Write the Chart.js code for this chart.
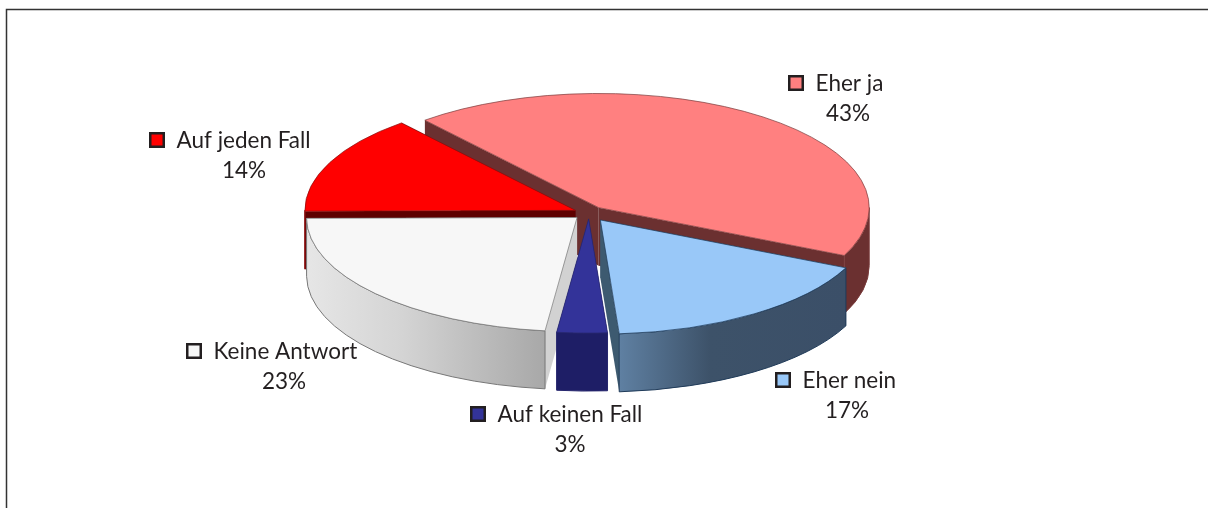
<!DOCTYPE html>
<html lang="de">

<head>
  <meta charset="UTF-8">
  <title>Umfrage</title>
  <script src="https://cdnjs.cloudflare.com/ajax/libs/Chart.js/4.4.1/chart.umd.min.js"></script>
  <style>
    html, body { margin: 0; padding: 0; background: #fff; }
    canvas { display: block; }
  </style>
</head>

<body>
  <canvas id="example" width="1208" height="508"></canvas>
  <script>
    // data
    var categories = ['Eher ja', 'Eher nein', 'Auf keinen Fall', 'Keine Antwort', 'Auf jeden Fall'];
    var shares = [43, 17, 3, 23, 14];

    // look of each slice, same order as categories
    var topColors = ['#ff8080', '#99c8f8', '#333399', '#f7f7f7', '#ff0000'];
    var edgeColors = ['#7a3c3c', '#1f3a58', '#26266e', '#777777', '#8a1010'];
    var cutColors = ['#6b3030', '#3d5a70', '#1e1e66', '#d2d2d2', '#5e0000'];
    // round face shading, left to right
    var wallLeft = ['#6b3030', '#5f80a2', '#1e1e66', '#e6e6e6', '#5e0000'];
    var wallMiddle = ['#6b3030', '#3d5269', '#1e1e66', '#d4d4d4', '#5e0000'];
    var wallRight = ['#6b3030', '#3b4f68', '#1e1e66', '#a8a8a8', '#5e0000'];
    var explode = [16, 20, 14, 16, 15];

    // label anchors: marker left, first line middle, centre of the percent line
    var labelSpots = [
      [788, 83, 848], [775, 380, 847], [470, 414, 570], [186, 351, 284], [149, 140, 244]
    ];

    var tilt = 0.422;
    var depth = 58;
    var font = '22.5px Lato';

    function sliceOffset(arc, i) {
      var mid = (arc.startAngle + arc.endAngle) / 2;
      return { x: Math.cos(mid) * explode[i], y: Math.sin(mid) * explode[i] * tilt };
    }

    function drawWalls(ctx, arc, i) {
      var off = sliceOffset(arc, i);
      var px = arc.x + off.x, py = arc.y + off.y, r = arc.outerRadius;
      // cut faces
      [arc.startAngle, arc.endAngle].forEach(function (a) {
        var ex = px + Math.cos(a) * r, ey = py + Math.sin(a) * r * tilt;
        ctx.fillStyle = cutColors[i];
        ctx.beginPath();
        ctx.moveTo(px, py);
        ctx.lineTo(ex, ey);
        ctx.lineTo(ex, ey + depth);
        ctx.lineTo(px, py + depth);
        ctx.closePath();
        ctx.fill();
      });
      // round face, only the part turned to the viewer
      var a0 = Math.max(arc.startAngle, 0), a1 = Math.min(arc.endAngle, Math.PI);
      if (a1 > a0) {
        var x0 = px + Math.cos(a0) * r, x1 = px + Math.cos(a1) * r;
        var grad = ctx.createLinearGradient(x1, 0, x0, 0);
        grad.addColorStop(0, wallLeft[i]);
        grad.addColorStop(0.4, wallMiddle[i]);
        grad.addColorStop(1, wallRight[i]);
        ctx.fillStyle = grad;
        ctx.strokeStyle = edgeColors[i];
        ctx.lineWidth = 1;
        ctx.beginPath();
        ctx.ellipse(px, py, r, r * tilt, 0, a0, a1);
        ctx.ellipse(px, py + depth, r, r * tilt, 0, a1, a0, true);
        ctx.closePath();
        ctx.fill();
        ctx.stroke();
      }
    }

    var tiltedPie = {
      id: 'tiltedPie',
      beforeDatasetDraw: function (chart) {
        var ctx = chart.ctx;
        var arcs = chart.getDatasetMeta(0).data;
        var order = arcs.map(function (a, i) { return i; }).sort(function (m, n) {
          return Math.sin((arcs[m].startAngle + arcs[m].endAngle) / 2) -
            Math.sin((arcs[n].startAngle + arcs[n].endAngle) / 2);
        });
        order.forEach(function (i) { drawWalls(ctx, arcs[i], i); });
        order.forEach(function (i) {
          var arc = arcs[i], off = sliceOffset(arc, i);
          ctx.save();
          ctx.translate(arc.x + off.x, arc.y + off.y);
          ctx.scale(1, tilt);
          ctx.translate(-arc.x, -arc.y);
          arc.draw(ctx);
          ctx.restore();
        });
        return false;
      },
      beforeDraw: function (chart) {
        // frame, open at the right and at the bottom
        var ctx = chart.ctx;
        ctx.strokeStyle = '#333';
        ctx.lineWidth = 1.5;
        ctx.beginPath();
        ctx.moveTo(6.5, 508);
        ctx.lineTo(6.5, 9.5);
        ctx.lineTo(1208, 9.5);
        ctx.stroke();
      },
      afterDraw: function (chart) {
        var ctx = chart.ctx;
        ctx.font = font;
        ctx.textBaseline = 'middle';
        categories.forEach(function (name, i) {
          var s = labelSpots[i];
          ctx.fillStyle = topColors[i];
          ctx.strokeStyle = '#231f20';
          ctx.lineWidth = 2.5;
          ctx.beginPath();
          ctx.rect(s[0] + 1.25, s[1] - 6.75, 13.5, 13.5);
          ctx.fill();
          ctx.stroke();
          ctx.fillStyle = '#231f20';
          ctx.textAlign = 'left';
          ctx.fillText(name, s[0] + 27.5, s[1] + 1);
          ctx.textAlign = 'center';
          ctx.fillText(shares[i] + '%', s[2], s[1] + 31);
        });
      }
    };

    var chart = new Chart(document.getElementById('example'), {
      type: 'pie',
      data: {
        labels: categories,
        datasets: [{
          data: shares,
          backgroundColor: topColors,
          borderColor: edgeColors,
          borderWidth: 1
        }]
      },
      options: {
        responsive: false,
        animation: false,
        rotation: -40,
        radius: 270.5,
        layout: { padding: { right: 30, bottom: 82 } },
        plugins: { legend: { display: false }, tooltip: { enabled: false } }
      },
      plugins: [tiltedPie]
    });
  </script>
</body>

</html>
